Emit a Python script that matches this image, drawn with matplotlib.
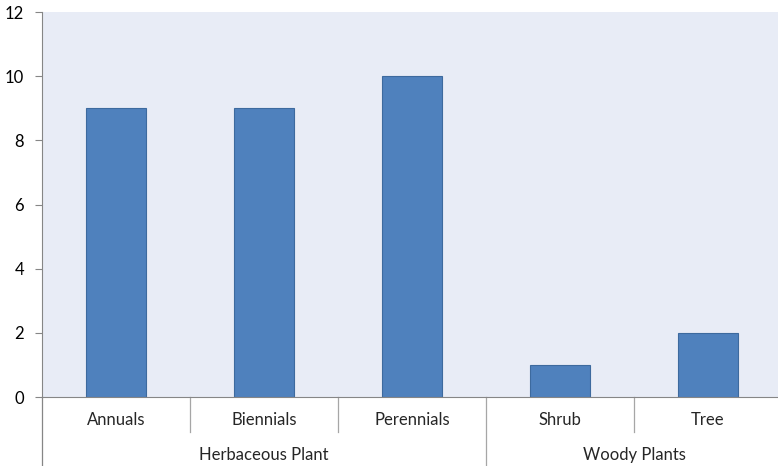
import matplotlib.pyplot as plt
import matplotlib.transforms as mtransforms

# plant counts by type, grouped into two families
categories = ["Annuals", "Biennials", "Perennials", "Shrub", "Tree"]
counts = [9, 9, 10, 1, 2]
groups = ["Herbaceous Plant", "Woody Plants"]
group_sizes = [3, 2]

plt.rcParams['font.family'] = ['Lato', 'DejaVu Sans']

fig = plt.figure(figsize=(7.78, 4.66), dpi=100)
ax = fig.add_axes([42 / 778, 69 / 466, 740 / 778, 385 / 466])
ax.set_facecolor('#E8ECF6')

x = list(range(len(categories)))
ax.bar(x, counts, width=0.41, color='#4F81BD', edgecolor='#3D6A9E', linewidth=0.8, zorder=2)

ax.set_xlim(-0.5, len(categories) - 0.5)
ax.set_ylim(0, 12)
ax.set_yticks(range(0, 13, 2))
ax.tick_params(axis='y', length=5, width=0.8, color='#868686', labelsize=12, pad=8)
ax.set_xticks([])

for side in ['top', 'right']:
    ax.spines[side].set_visible(False)
ax.spines['left'].set_color('#868686')
ax.spines['bottom'].set_color('#868686')

# multi-level category axis below the plot
trans = mtransforms.blended_transform_factory(ax.transData, fig.transFigure)
y_axis = 69 / 466
y_cat_bottom = 34 / 466
line_kw = dict(color='#A6A6A6', linewidth=0.9, transform=trans, clip_on=False)

for i, name in enumerate(categories):
    ax.text(i, 46 / 466, name, transform=trans, ha='center', va='center', fontsize=12, color='#262626')

# separators between categories
boundaries = [i + 0.5 for i in range(len(categories) - 1)]
group_edges = []
acc = 0
for s in group_sizes[:-1]:
    acc += s
    group_edges.append(acc - 0.5)
for b in boundaries:
    bottom = 0 if b in group_edges else y_cat_bottom
    ax.plot([b, b], [y_axis, bottom], **line_kw)

# left axis continues down through both label rows
ax.plot([-0.5, -0.5], [y_axis, 0], color='#868686', linewidth=0.9, transform=trans, clip_on=False)

start = -0.5
for g, s in zip(groups, group_sizes):
    center = start + s / 2
    ax.text(center, 11 / 466, g, transform=trans, ha='center', va='center', fontsize=12, color='#262626')
    start += s

fig.savefig("out.png", dpi=100)
